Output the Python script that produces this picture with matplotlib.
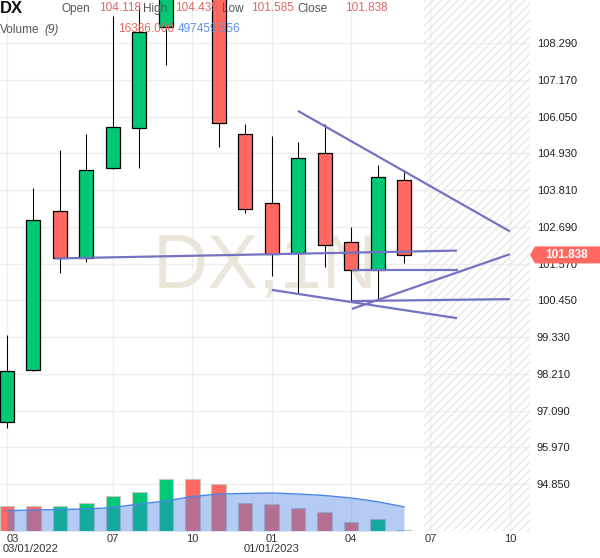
import numpy as np
import matplotlib
matplotlib.use("Agg")
import matplotlib.pyplot as plt
from matplotlib.patches import Polygon
from matplotlib.transforms import blended_transform_factory

plt.rcParams["font.family"] = ["Liberation Sans", "DejaVu Sans"]
plt.rcParams["hatch.linewidth"] = 0.8

# monthly candles, Mar 2022 .. Jun 2023
months = list(range(16))
opens = [96.75, 98.33, 103.18, 101.74, 104.49, 105.71, 108.79, 112.10,
         111.40, 105.52, 103.42, 101.90, 104.95, 102.23, 101.38, 104.118]
highs = [99.40, 103.88, 105.04, 105.52, 109.12, 109.43, 114.70, 113.90,
         113.00, 105.83, 105.46, 105.28, 105.83, 102.69, 104.58, 104.435]
lows = [96.57, 98.30, 101.29, 101.62, 104.45, 104.49, 107.63, 109.80,
        105.13, 103.12, 101.19, 100.65, 101.47, 100.40, 100.46, 101.585]
closes = [98.31, 102.90, 101.74, 104.43, 105.74, 108.63, 112.10, 111.40,
          105.86, 103.24, 101.87, 104.79, 102.14, 101.38, 104.22, 101.838]

volumes = [522000, 520000, 523000, 583000, 727000, 810000, 1073000, 1069000,
           962000, 571000, 550000, 480000, 385000, 179000, 253000, 16386]
prev_volume = 530000
vol_ma = [418000, 433000, 443000, 453000, 484000, 556000, 618000, 711000,
          762000, 773000, 783000, 762000, 731000, 680000, 604000, 497459.556]

price_ticks = [94.85, 95.97, 97.09, 98.21, 99.33, 100.45, 101.57,
               102.69, 103.81, 104.93, 106.05, 107.17, 108.29]
month_ticks = [0, 4, 7, 10, 13, 16, 19]
month_labels = ["03", "07", "10", "01", "04", "07", "10"]

# drawn trend lines (month index, price)
trendlines = [
    ((10.99, 106.23), (19.0, 102.555)),
    ((1.81, 101.73), (17.0, 101.97)),
    ((13.03, 101.38), (17.04, 101.38)),
    ((10.01, 100.77), (17.0, 99.91)),
    ((13.03, 100.19), (19.0, 101.86)),
    ((13.03, 100.43), (19.0, 100.49)),
]

GREEN = "#00c875"
RED = "#ff6961"
W, H = 600, 558

fig = plt.figure(figsize=(6, 5.58), dpi=100)
ax = fig.add_axes([0, 27 / H, 530 / W, 531 / H])
axv = ax.twinx()
axv.set_zorder(2)
axv.patch.set_visible(False)

for a in (ax, axv):
    for s in a.spines.values():
        s.set_visible(False)

ax.set_xlim(-0.264, 19.76)
ax.set_ylim(93.42, 109.61)
axv.set_ylim(0, 531 * 20600)
axv.set_yticks([])

# grid
for p in price_ticks:
    ax.axhline(p, color="#efefef", lw=1, zorder=0)
for m in month_ticks:
    ax.axvline(m, color="#efefef", lw=1, zorder=0)

# future area hatch
ax.axvspan(15.75, 19.76, facecolor="none", edgecolor="#e4e4e4", hatch="////",
           lw=0, zorder=0)

# watermark
ax.text(0.289, 0.4595, "DX,1N", transform=ax.transAxes, fontsize=55,
        color="#ebe6da", ha="left", va="baseline", zorder=0.5)

# candles
o = np.array(opens)
c = np.array(closes)
cols = [GREEN if cc >= oo else RED for oo, cc in zip(opens, closes)]
ax.vlines(months, lows, highs, color="black", lw=0.75, zorder=2)
ax.bar(months, np.abs(c - o), bottom=np.minimum(o, c), width=0.53,
       color=cols, edgecolor="black", lw=0.9, zorder=3)

# trend lines
for (x0, y0), (x1, y1) in trendlines:
    ax.plot([x0, x1], [y0, y1], color="#7373c2", lw=1.6, zorder=4,
            solid_capstyle="butt")

# volume
vprev = [prev_volume] + volumes[:-1]
vcols = [GREEN if v >= pv else RED for v, pv in zip(volumes, vprev)]
axv.bar(months, volumes, width=0.55, color=vcols, edgecolor="#c6c6c6",
        lw=0.8, zorder=2)
axv.fill_between(months, vol_ma, 0, color="#3c7be4", alpha=0.38, lw=0,
                 zorder=3)
axv.plot(months, vol_ma, color="#4a86e8", lw=1.0, zorder=4)

# axes ticks
ax.yaxis.tick_right()
ax.set_yticks(price_ticks)
ax.set_yticklabels([f"{p:.3f}" for p in price_ticks])
ax.tick_params(axis="y", length=0, pad=5, labelsize=8, labelcolor="#222")
ax.set_xticks([])

tr = blended_transform_factory(ax.transData, ax.transAxes)
for m, lab in zip(month_ticks, month_labels):
    xx = 0.21 if m == 0 else m
    ax.text(xx, -0.0155, lab, transform=tr, ha="center", va="center",
            fontsize=8, color="#333", clip_on=False)
ax.text(-0.15, -0.034, "03/01/2022", transform=tr, ha="left", va="center",
        fontsize=8, color="#333", clip_on=False)
ax.text(10, -0.034, "01/01/2023", transform=tr, ha="center", va="center",
        fontsize=8, color="#333", clip_on=False)

# header
def ftext(x, y, s, **kw):
    fig.text(x / W, 1 - y / H, s, va="center", ha="left", zorder=10, **kw)

ftext(0, 8.5, "DX", fontsize=12, fontweight="bold", color="#111")
hdr = [("Open", opens[-1], 62, 99), ("High", highs[-1], 143, 175),
       ("Low", lows[-1], 222, 251), ("Close", closes[-1], 297, 345)]
for name, val, xl, xv in hdr:
    ftext(xl, 9, name, fontsize=8.5, color="#555")
    ftext(xv, 8, f"{val:.3f}", fontsize=8.5, color="#dc6a64")
ftext(0, 30, "Volume", fontsize=8.5, color="#555")
ftext(44, 30, "(9)", fontsize=8.5, color="#555", style="italic")
ftext(118, 29, f"{volumes[-1]:.3f}", fontsize=8.5, color="#dc6a64")
ftext(178, 29, f"{vol_ma[-1]:.3f}", fontsize=8.5, color="#5b8ee6")

# last price badge
fig.canvas.draw()
yb = ax.transData.transform((0, closes[-1]))[1]
badge = Polygon([(530, yb), (535, yb + 8.5), (600, yb + 8.5),
                 (600, yb - 8.5), (535, yb - 8.5)], closed=True,
                transform=None, facecolor="#ff6961", edgecolor="none",
                zorder=20)
fig.patches.append(badge)
badge.set_figure(fig)
fig.text(567 / W, yb / H, f"{closes[-1]:.3f}", ha="center", va="center",
         fontsize=8.5, fontweight="bold", color="white", zorder=21)

fig.savefig("out.png", dpi=100)
